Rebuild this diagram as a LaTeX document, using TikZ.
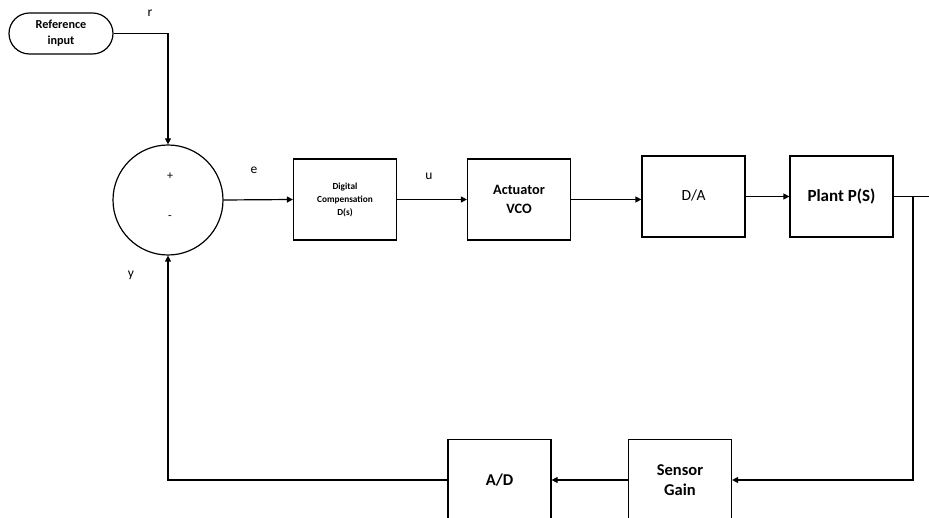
\documentclass[tikz,border=0pt]{standalone}
\usepackage{fontspec}
\setmainfont{Carlito}
\usetikzlibrary{shapes.misc,arrows.meta}
\begin{document}
\begin{tikzpicture}[x=1pt,y=-1pt,
  line width=1.2pt,
  blk/.style={draw, rectangle, minimum width=103pt, minimum height=81pt, inner sep=0pt, align=center},
  lbl/.style={font=\fontsize{13.5}{15}\selectfont, inner sep=0pt},
  arr/.style={-{Triangle[length=6pt,width=6pt]}}]
\useasboundingbox (0,0) rectangle (929,518);
\clip (0,0) rectangle (929,518);
% reference input
\node[draw, rounded rectangle, minimum width=104pt, minimum height=41pt, inner sep=0pt, align=center,
  font=\fontsize{12.2}{16}\selectfont\bfseries] (ref) at (61,33.5) {Reference\\input};
% summing junction
\node[draw, circle, minimum size=110pt, inner sep=0pt] (sum) at (168,200) {};
\node[font=\fontsize{12}{12}\selectfont, inner sep=0pt] (plus) at (170,176) {+};
\node[font=\fontsize{12}{12}\selectfont, inner sep=0pt] (minus) at (170,218) {-};
% forward blocks
\node[blk, font=\fontsize{9.3}{13}\selectfont\bfseries] (dc) at (345,199.5) {Digital\\Compensation\\D(s)};
\node[blk, font=\fontsize{14.3}{19}\selectfont\bfseries] (act) at (519,199.5) {Actuator\\VCO};
\node[blk, font=\fontsize{15.5}{19}\selectfont] (da) at (693.5,196.5) {\raisebox{2pt}{D/A}};
\node[blk, font=\fontsize{17}{20}\selectfont\bfseries] (plant) at (841.5,196.5) {Plant P(S)};
% feedback blocks (cut at the lower edge)
\node[blk, font=\fontsize{16.5}{20.5}\selectfont\bfseries] (sg) at (680,480) {Sensor\\Gain};
\node[blk, font=\fontsize{16.5}{20}\selectfont\bfseries] (ad) at (499.5,480) {\raisebox{-2pt}{A/D}};
% labels
\node[lbl] (r) at (150,13) {r};
\node[lbl] (e) at (254,170) {e};
\node[lbl] (u) at (429,176) {u};
\node[lbl] (y) at (131,275) {y};
% connectors
\draw[arr] (ref.east) -| (sum.north);
\draw[arr] (sum.east) -- (dc.west);
\draw[arr] (dc.east) -- (act.west);
\draw[arr] (act.east) -- (da.west |- act.east);
\draw[arr] (da.east) -- (plant.west);
\coordinate (out) at (929,196.5);
\coordinate (br) at (913,196.5);
\draw (plant.east) -- (out);
\draw[arr] (br) |- (sg.east);
\draw[arr] (sg.west) -- (ad.east);
\draw[arr] (ad.west) -| (sum.south);
\end{tikzpicture}
\end{document}
